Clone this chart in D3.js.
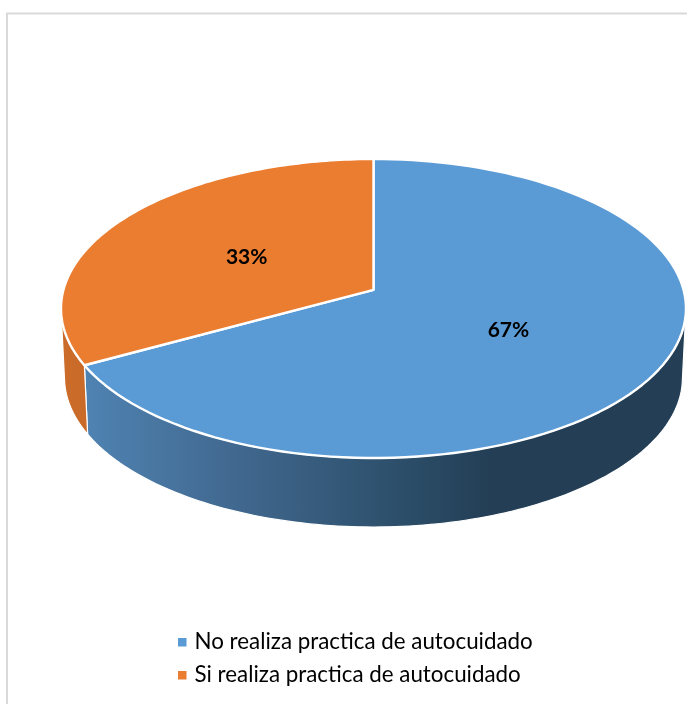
<!DOCTYPE html>
<html>
<head>
<meta charset="utf-8">
<script src="https://cdn.jsdelivr.net/npm/d3@7"></script>
<style>
html,body{margin:0;padding:0;background:#fff;}
svg{display:block;}
text{font-family:Lato,"Open Sans",sans-serif;fill:#000;}
</style>
</head>
<body>
<svg id="chart" width="687" height="704"></svg>
<script>
const categories = ["No realiza practica de autocuidado", "Si realiza practica de autocuidado"];
const values = [67, 33];
const labels = ["67%", "33%"];
const colors = ["#5B9BD5", "#EB7D31"];

const svg = d3.select("#chart");

// frame
svg.append("path").attr("d", "M7,704V13.5H687").attr("fill", "none").attr("stroke", "#D9D9D9").attr("stroke-width", 2);

// perspective projection of the pie disc
const cx = 373.5, topCy = 308.5, rxTop = 312.5, ryTop = 149.5;
const botCy = 377.5, rxBot = 309, ryBot = 149.5;
const c = -0.125;
function project(angle, r, ox, oy, rx, ry) {
  const u = r * Math.sin(angle), v = -r * Math.cos(angle);
  const w = 1 + c * v;
  return [ox + rx * u * Math.sqrt(1 - c * c) / w, oy + ry * (v + c) / w];
}
const topP = (a, r = 1) => project(a, r, cx, topCy, rxTop, ryTop);
const botP = (a) => project(a, 1, cx, botCy, rxBot, ryBot);
const samples = (a0, a1) => d3.range(0, 121).map(i => a0 + (a1 - a0) * i / 120);
const line = d3.line();

const arcs = d3.pie().sort(null)(values);

// gradients for the side wall
const defs = svg.append("defs");
const soft = defs.append("filter").attr("id", "soft");
soft.append("feGaussianBlur").attr("stdDeviation", 0.3);
const blueGrad = defs.append("linearGradient").attr("id", "sideBlue")
  .attr("gradientUnits", "userSpaceOnUse").attr("x1", 85).attr("x2", 685).attr("y1", 0).attr("y2", 0);
[[0, "#4F83B2"], [0.25, "#41688F"], [0.48, "#2F5370"], [0.68, "#233E55"], [1, "#233E55"]]
  .forEach(s => blueGrad.append("stop").attr("offset", s[0]).attr("stop-color", s[1]));
const orangeGrad = defs.append("linearGradient").attr("id", "sideOrange")
  .attr("gradientUnits", "userSpaceOnUse").attr("x1", 60).attr("x2", 90).attr("y1", 0).attr("y2", 0);
[[0, "#CB6C2A"], [1, "#C96A28"]].forEach(s => orangeGrad.append("stop").attr("offset", s[0]).attr("stop-color", s[1]));

// visible range of the side wall
const visFrom = 100 * Math.PI / 180, visTo = 262 * Math.PI / 180;
const sideFill = ["url(#sideBlue)", "url(#sideOrange)"];
arcs.forEach((d, i) => {
  const a0 = Math.max(d.startAngle, visFrom), a1 = Math.min(d.endAngle, visTo);
  const pts = samples(a0, a1);
  const ring = pts.map(a => topP(a)).concat(pts.slice().reverse().map(a => botP(a)));
  svg.append("path").attr("d", line(ring) + "Z")
    .attr("fill", sideFill[i]).attr("stroke", "#fff").attr("stroke-width", 1.2).attr("stroke-linejoin", "round");
});

// top slices
arcs.forEach((d, i) => {
  const pts = [topP(0, 0)].concat(samples(d.startAngle, d.endAngle).map(a => topP(a)));
  svg.append("path").attr("d", line(pts) + "Z")
    .attr("fill", colors[i]).attr("stroke", "#fff").attr("stroke-width", 2.4).attr("stroke-linejoin", "round");
});

// data labels
arcs.forEach((d, i) => {
  const p = topP((d.startAngle + d.endAngle) / 2, 0.49);
  svg.append("text").attr("x", p[0]).attr("y", p[1] + 1)
    .attr("text-anchor", "middle").attr("dominant-baseline", "central")
    .attr("font-size", 21).attr("font-weight", 700).attr("filter", "url(#soft)").text(labels[i]);
});

// legend
const legendY = d3.scalePoint().domain(categories).range([649, 682]);
categories.forEach((name, i) => {
  const y = legendY(name);
  svg.append("rect").attr("x", 178).attr("y", y - 11).attr("width", 8.5).attr("height", 8.5).attr("fill", colors[i]);
  svg.append("text").attr("x", 194.5).attr("y", y).attr("font-size", 22.35).attr("filter", "url(#soft)").text(name);
});
</script>
</body>
</html>
